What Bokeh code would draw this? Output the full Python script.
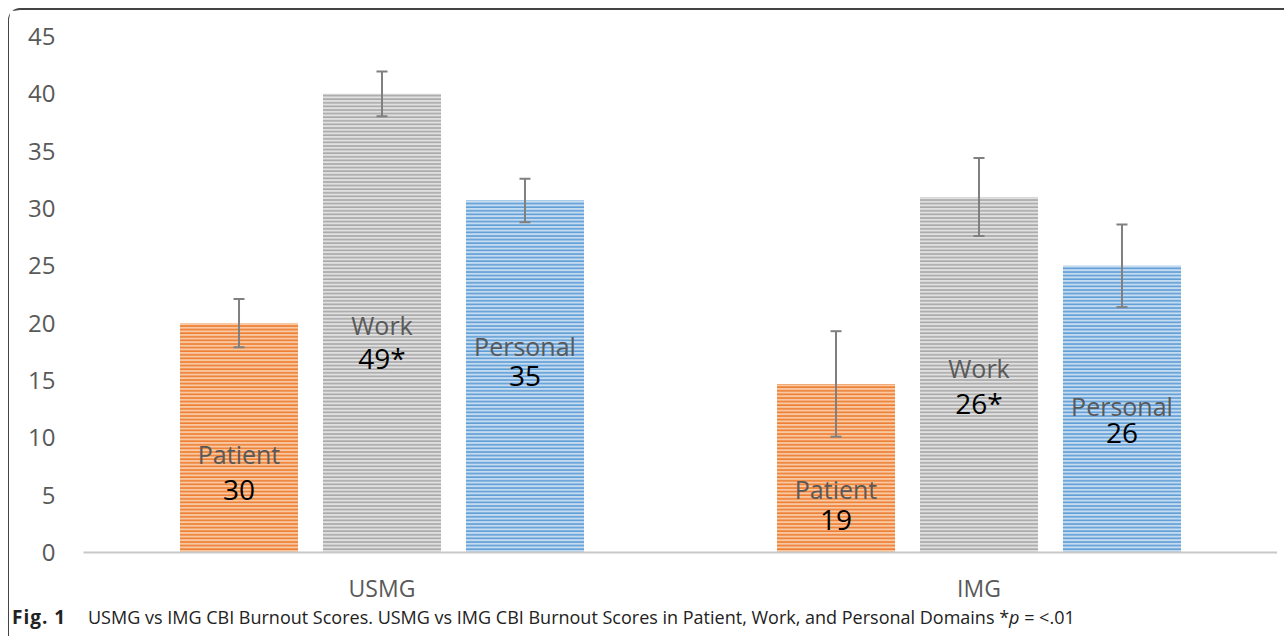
from bokeh.plotting import figure
from bokeh.layouts import column
from bokeh.models import ColumnDataSource, FactorRange, Range1d, FixedTicker, Whisker, TeeHead, Div
from bokeh.transform import dodge
from bokeh.core.properties import value
from bokeh.embed import file_html
from bokeh.resources import INLINE

# ---- data ----
groups = ["USMG", "IMG"]
domains = ["Patient", "Work", "Personal"]
patient = [20.0, 14.7]
work = [40.0, 31.0]
personal = [30.7, 25.0]
patient_err = [2.1, 4.6]
work_err = [1.95, 3.4]
personal_err = [1.9, 3.6]
patient_labels = ["30", "19"]
work_labels = ["49*", "26*"]
personal_labels = ["35", "26"]
y_ticks = [0, 5, 10, 15, 20, 25, 30, 35, 40, 45]
caption_bold = "Fig. 1"
caption_text = "USMG vs IMG CBI Burnout Scores. USMG vs IMG CBI Burnout Scores in Patient, Work, and Personal Domains *"
caption_italic = "p"
caption_tail = " = <.01"

# label placement (layout, not data)
name_y = {"Patient": [8.63, 5.58], "Work": [19.8, 16.05], "Personal": [18.05, 12.8]}
num_y = {"Patient": [5.45, 2.85], "Work": [17.0, 13.05], "Personal": [15.4, 10.4]}

FONT = "Open Sans"

p = figure(x_range=FactorRange(factors=groups, range_padding=0), y_range=Range1d(0, 45),
           frame_width=1194, frame_height=516, output_backend="svg", toolbar_location=None,
           min_border_left=74, min_border_right=0, min_border_top=26, min_border_bottom=54)
p.outline_line_color = None
p.xgrid.grid_line_color = None
p.ygrid.grid_line_color = None

series = [
    ("Patient", patient, patient_err, patient_labels, -0.2395, "#f8c8a2", "#ed7d31"),
    ("Work", work, work_err, work_labels, 0.0, "#e0e0e0", "#a8a8a8"),
    ("Personal", personal, personal_err, personal_labels, 0.2395, "#c4dbf0", "#5f9dd6"),
]

for name, vals, errs, labs, off, fill, hatch in series:
    src = ColumnDataSource(dict(
        g=groups, v=vals,
        lo=[v - e for v, e in zip(vals, errs)],
        hi=[v + e for v, e in zip(vals, errs)],
        lab=labs, nm=[name] * len(groups),
        ny=name_y[name], uy=num_y[name],
    ))
    xd = dodge("g", off, range=p.x_range)
    p.vbar(x=xd, top="v", bottom=0, width=0.1977, source=src,
           fill_color=fill, line_color=None,
           hatch_pattern="horizontal_line", hatch_color=hatch,
           hatch_scale=3.6, hatch_weight=1.6)
    w = Whisker(base=xd, lower="lo", upper="hi", source=src, level="overlay",
                line_color="#808080", line_width=2,
                lower_head=TeeHead(size=11, line_color="#808080", line_width=2),
                upper_head=TeeHead(size=11, line_color="#808080", line_width=2))
    p.add_layout(w)
    p.text(x=xd, y="ny", text="nm", source=src, text_align="center", text_baseline="middle",
           text_font=value(FONT), text_font_size="25px", text_color="#595959")
    p.text(x=xd, y="uy", text="lab", source=src, text_align="center", text_baseline="middle",
           text_font=value(FONT), text_font_size="28px", text_color="#000000")

p.yaxis.ticker = FixedTicker(ticks=y_ticks)
p.yaxis.axis_line_color = None
p.yaxis.major_tick_line_color = None
p.yaxis.minor_tick_line_color = None
p.yaxis.major_label_standoff = 22
p.yaxis.major_label_text_font = FONT
p.yaxis.major_label_text_font_size = "24px"
p.yaxis.major_label_text_color = "#595959"

p.xaxis.axis_line_color = "#c8c8c8"
p.xaxis.axis_line_width = 2
p.xaxis.major_tick_line_color = None
p.xaxis.minor_tick_line_color = None
p.xaxis.major_label_standoff = 13
p.xaxis.major_label_text_font = FONT
p.xaxis.major_label_text_font_size = "23px"
p.xaxis.major_label_text_color = "#595959"

def esc(s):
    return s.replace("&", "&amp;").replace("<", "&lt;").replace(">", "&gt;")

cap_html = ('<div style="position:relative;left:-2px;top:-5px;white-space:nowrap;">'
            '<span style="display:inline-block;width:76px;font-weight:bold;font-size:19px;letter-spacing:1px;">'
            + esc(caption_bold) + '</span>' + esc(caption_text)
            + '<i>' + esc(caption_italic) + '</i>' + esc(caption_tail) + '</div>')
cap = Div(text=cap_html, width=1268, height=22,
          styles={"font-family": "'Open Sans'", "font-size": "18px", "color": "#222222",
                  "line-height": "22px"})

layout = column(p, cap, spacing=0)
layout.margin = (8, 0, 0, 8)
layout.styles = {"border-top": "2px solid #444444", "border-left": "1px solid #444444",
                 "border-top-left-radius": "12px"}

open("out.html", "w").write(file_html(layout, INLINE))
